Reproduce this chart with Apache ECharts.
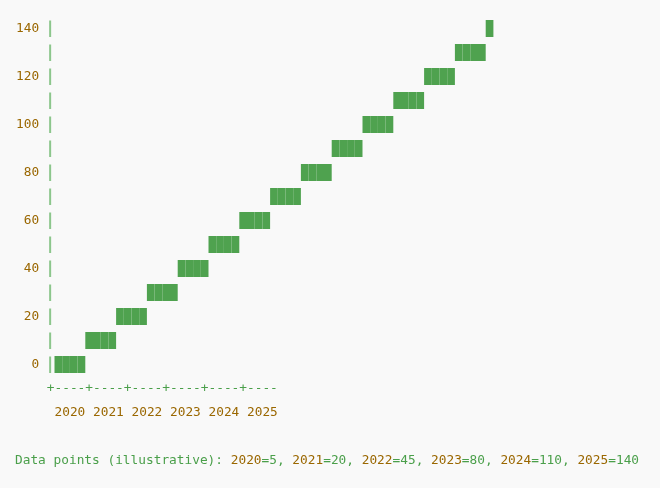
<!DOCTYPE html>
<html>
<head>
<meta charset="utf-8">
<script src="https://cdn.jsdelivr.net/npm/echarts@6/dist/echarts.min.js"></script>
<style>
html,body{margin:0;padding:0;background:#f9f9f9;}
#c{width:660px;height:488px;}
</style>
</head>
<body>
<div id="c"></div>
<script>
// ---- data ----
var years = ['2020', '2021', '2022', '2023', '2024', '2025'];
var yearValues = [5, 20, 45, 80, 110, 140];
var yTicks = [0, 20, 40, 60, 80, 100, 120, 140];
var yearCols = [5, 10, 15, 20, 25, 30];
var axisMarkCols = [4, 9, 14, 19, 24, 29];
// staircase rows: value of each text row, start column and number of block glyphs
var rowValues = [0, 10, 20, 30, 40, 50, 60, 70, 80, 90, 100, 110, 120, 130, 140];
var rowStartCols = [5, 9, 13, 17, 21, 25, 29, 33, 37, 41, 45, 49, 53, 57, 61];
var rowBlocks = [4, 4, 4, 4, 4, 4, 4, 4, 4, 4, 4, 4, 4, 4, 1];

var FONT = '"DejaVu Sans Mono", monospace';
var FS = 12.8;
var BROWN = '#9a6700';
var GREEN = '#4a9f4a';
var BLOCK = '#4fa24f';
var PIPE = '#8cc68c';

function pad3(v) { var s = String(v); while (s.length < 3) s = ' ' + s; return s; }

var blockData = rowValues.map(function (v, i) { return [rowStartCols[i], v, rowBlocks[i]]; });
var pipeData = rowValues.map(function (v) { return [4, v]; });

var footerRich = '{g|Data points (illustrative): }' + years.map(function (y, i) {
  return '{b|' + y + '}{g|=' + yearValues[i] + (i < years.length - 1 ? ', ' : '') + '}';
}).join('');

var chart = echarts.init(document.getElementById('c'));
chart.setOption({
  backgroundColor: '#f9f9f9',
  animation: false,
  title: {
    text: footerRich,
    left: 15, top: 454, padding: 0,
    textStyle: {
      fontWeight: 'normal',
      rich: {
        g: { color: GREEN, fontFamily: FONT, fontSize: FS, fontWeight: 'normal' },
        b: { color: BROWN, fontFamily: FONT, fontSize: FS, fontWeight: 'normal' }
      }
    }
  },
  grid: { left: 16, right: 28, top: 28.5, bottom: 123.5, containLabel: false },
  xAxis: [{
    type: 'value', min: 0, max: 80, interval: 5,
    axisLine: { show: false }, axisTick: { show: false }, splitLine: { show: false },
    axisLabel: {
      customValues: yearCols,
      margin: 48.5, align: 'left', verticalAlign: 'middle',
      fontFamily: FONT, fontSize: FS, color: BROWN,
      formatter: function (v) { var k = yearCols.indexOf(v); return k >= 0 ? years[k] : ''; }
    }
  }, {
    type: 'value', min: 0, max: 80, interval: 5, position: 'bottom',
    axisLine: { show: false }, axisTick: { show: false }, splitLine: { show: false },
    axisLabel: {
      customValues: axisMarkCols,
      margin: 24.5, align: 'left', verticalAlign: 'middle',
      fontFamily: FONT, fontSize: FS, color: GREEN,
      formatter: function (v) { return axisMarkCols.indexOf(v) >= 0 ? '+----' : ''; }
    }
  }],
  yAxis: {
    type: 'value', min: 0, max: 140, interval: 10,
    axisLine: { show: false }, axisTick: { show: false }, splitLine: { show: false },
    axisLabel: {
      inside: true, margin: 0, align: 'left', verticalAlign: 'middle',
      fontFamily: FONT, fontSize: FS, color: BROWN,
      formatter: function (v) { return yTicks.indexOf(v) >= 0 ? pad3(v) : ''; }
    }
  },
  series: [{
    type: 'custom',
    xAxisIndex: 0,
    data: pipeData,
    renderItem: function (params, api) {
      var p = api.coord([api.value(0), api.value(1)]);
      var cw = api.size([1, 0])[0];
      return {
        type: 'rect',
        shape: { x: p[0] + cw / 2 - 1.5, y: p[1] - 8, width: 2, height: 16.5 },
        style: { fill: PIPE }
      };
    }
  }, {
    type: 'custom',
    xAxisIndex: 0,
    data: blockData,
    renderItem: function (params, api) {
      var p = api.coord([api.value(0), api.value(1)]);
      var n = api.value(2);
      var cw = api.size([1, 0])[0];
      var kids = [];
      for (var k = 0; k < n; k++) {
        kids.push({
          type: 'rect',
          shape: { x: p[0] + k * cw, y: p[1] - 8.5, width: cw, height: 17 },
          style: { fill: BLOCK }
        });
      }
      return { type: 'group', children: kids };
    }
  }]
});
</script>
</body>
</html>
